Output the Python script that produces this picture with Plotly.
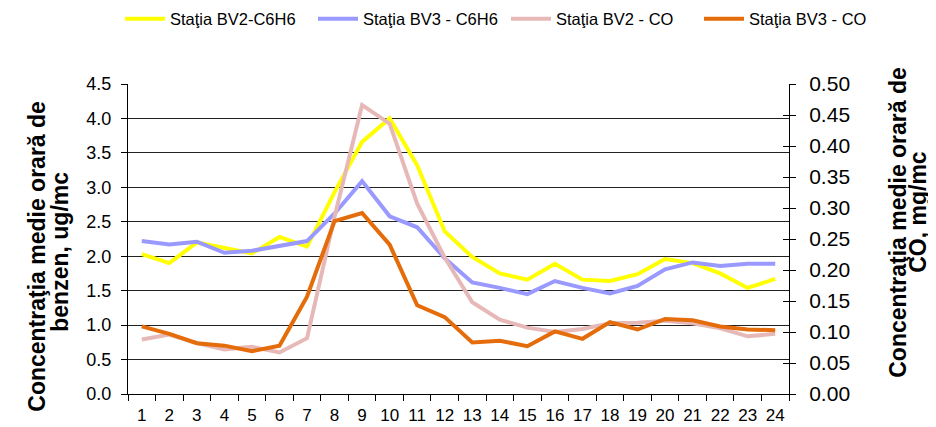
import plotly.graph_objects as go

hours = [str(i) for i in range(1, 25)]
bv2_c6h6 = [2.03, 1.90, 2.20, 2.12, 2.04, 2.28, 2.14, 2.93, 3.66, 4.00, 3.32, 2.36,
            1.99, 1.75, 1.66, 1.89, 1.66, 1.64, 1.74, 1.96, 1.90, 1.75, 1.54, 1.67]
bv3_c6h6 = [2.22, 2.17, 2.21, 2.05, 2.08, 2.15, 2.22, 2.62, 3.09, 2.58, 2.42, 1.97,
            1.62, 1.54, 1.45, 1.64, 1.54, 1.46, 1.57, 1.81, 1.91, 1.86, 1.89, 1.89]
bv2_co = [0.088, 0.096, 0.082, 0.072, 0.076, 0.067, 0.090, 0.286, 0.466, 0.436, 0.307, 0.220,
          0.148, 0.120, 0.107, 0.100, 0.105, 0.114, 0.115, 0.118, 0.114, 0.106, 0.093, 0.097]
bv3_co = [0.109, 0.097, 0.082, 0.078, 0.069, 0.078, 0.157, 0.279, 0.292, 0.241, 0.143, 0.124,
          0.083, 0.086, 0.077, 0.101, 0.089, 0.116, 0.104, 0.121, 0.119, 0.109, 0.104, 0.103]

names = ["Staţia BV2-C6H6", "Staţia BV3 - C6H6", "Staţia BV2 - CO", "Staţia BV3 - CO"]
colors = ["#FFFF00", "#9999FF", "#E6B9B8", "#E46C0A"]
left_title = ["Concentraţia medie orară de", "benzen, ug/mc"]
right_title = ["Concentraţia medie orară de", "CO, mg/mc"]

fig = go.Figure()
fig.add_trace(go.Scatter(x=hours, y=bv2_c6h6, name=names[0], mode="lines",
                         line=dict(color=colors[0], width=4)))
fig.add_trace(go.Scatter(x=hours, y=bv3_c6h6, name=names[1], mode="lines",
                         line=dict(color=colors[1], width=4)))
fig.add_trace(go.Scatter(x=hours, y=bv2_co, name=names[2], mode="lines", yaxis="y2",
                         line=dict(color=colors[2], width=4)))
fig.add_trace(go.Scatter(x=hours, y=bv3_co, name=names[3], mode="lines", yaxis="y2",
                         line=dict(color=colors[3], width=4)))

font = "Liberation Sans, Arial, sans-serif"
OFF = 8  # page body margin
W, H = 936 - OFF, 427 - OFF
L, T = 128 - OFF, 84 - OFF
R = W - (789 - OFF)
B = H - (394.5 - OFF)
pw, ph = W - L - R, H - T - B


def px(x):
    return (x - OFF - L) / pw


def py(y):
    return (H - B - (y - OFF)) / ph


annotations = []
for txt, xc, yc in [(left_title[0], 37, 257), (left_title[1], 60, 252),
                    (right_title[0], 898, 223), (right_title[1], 918, 212)]:
    annotations.append(dict(text="<b>" + txt + "</b>", textangle=-90, xref="paper", yref="paper",
                            x=px(xc), y=py(yc), xanchor="center", yanchor="middle",
                            showarrow=False, font=dict(size=23, family=font, color="#000")))

fig.update_layout(
    width=W, height=H,
    margin=dict(l=L, r=R, t=T, b=B, autoexpand=False),
    plot_bgcolor="white", paper_bgcolor="white",
    font=dict(family=font, size=18, color="#000"),
    showlegend=True,
    legend=dict(orientation="h", xref="paper", x=px(120), xanchor="left",
                yref="paper", y=py(19), yanchor="middle",
                font=dict(size=16.5, family=font, color="#000"), itemwidth=40,
                entrywidth=138, entrywidthmode="pixels"),
    xaxis=dict(type="category", range=[-0.5, 23.5], tickson="boundaries", ticks="outside",
               ticklen=6, tickcolor="#000", showline=True, linecolor="#000", linewidth=1,
               showgrid=False, tickfont=dict(size=17), tickangle=0, ticklabelstandoff=6),
    yaxis=dict(range=[0, 4.5], dtick=0.5, tickformat=".1f", ticks="outside", ticklen=6,
               tickcolor="#000", showline=True, linecolor="#000", linewidth=1,
               showgrid=True, gridcolor="#222", gridwidth=1, zeroline=False,
               tickfont=dict(size=18), ticklabelstandoff=6),
    yaxis2=dict(range=[0, 0.5], dtick=0.05, tickformat=".2f", ticks="outside", ticklen=6,
                tickcolor="#000", showline=True, linecolor="#000", linewidth=1,
                overlaying="y", side="right", showgrid=False, zeroline=False,
                tickfont=dict(size=21), ticklabelstandoff=9),
    yaxis3=dict(range=[0, 0.5], dtick=0.05, ticks="inside", ticklen=6, tickcolor="#000",
                showticklabels=False, overlaying="y", side="right", showgrid=False,
                zeroline=False, showline=False),
    annotations=annotations,
)
# invisible helper trace so the inside-tick axis is drawn
fig.add_trace(go.Scatter(x=[hours[0]], y=[0], yaxis="y3", mode="markers",
                         marker=dict(opacity=0), showlegend=False, hoverinfo="skip"))

fig.write_html("out.html")
